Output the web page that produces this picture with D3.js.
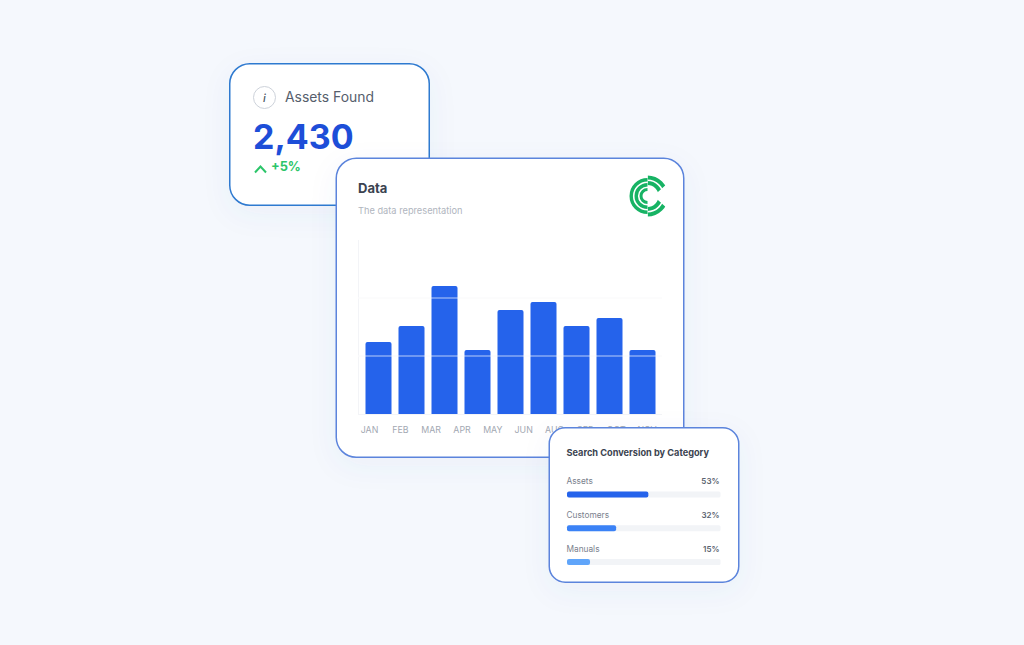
<!DOCTYPE html>
<html><head><meta charset="utf-8">
<script src="https://cdn.jsdelivr.net/npm/d3@7"></script>
<style>html,body{margin:0;padding:0;background:#f5f8fd;overflow:hidden}svg{display:block}text{font-family:Inter,sans-serif}</style>
</head><body><svg id="c" width="1024" height="645"></svg>
<script>
const barMonths = ["JAN","FEB","MAR","APR","MAY","JUN","AUG","SEP","OCT"];
const monthValues = [45,55,80,40,65,70,55,60,40];
const tickLabels = ["JAN","FEB","MAR","APR","MAY","JUN","AUG","SEP","OCT","NOV"];
const gridValues = [36.25,72.5];
const kpiValue = "2,430";
const kpiChange = "+5%";
const convCategories = ["Assets","Customers","Manuals"];
const convValues = [53,32,15];
const convColors = ["#2563eb","#3b82f6","#60a5fa"];

const svg = d3.select("#c");
const defs = svg.append("defs");
const f = defs.append("filter").attr("id","sh").attr("x","-20%").attr("y","-20%").attr("width","140%").attr("height","150%");
f.append("feDropShadow").attr("dx",0).attr("dy",8).attr("stdDeviation",14).attr("flood-color","#3b5fb0").attr("flood-opacity",0.055);
defs.append("clipPath").attr("id","logoClip").append("polygon")
  .attr("points",[[0,-26],[26,-26],[26,-18],[6,0],[26,18],[26,26],[0,26]].map(p=>p.join(",")).join(" "));

function card(x,y,w,h,r,stroke){
  svg.append("rect").attr("x",x).attr("y",y).attr("width",w).attr("height",h).attr("rx",r)
    .attr("fill","#fff").attr("stroke",stroke).attr("stroke-width",1.5).attr("filter","url(#sh)");
}
function text(x,y,s,size,weight,fill,anchor){
  return svg.append("text").attr("x",x).attr("y",y).text(s).attr("font-size",size).attr("font-weight",weight)
    .attr("fill",fill).attr("text-anchor",anchor||"start");
}

// KPI card
card(229.75,63.75,199.5,141.5,20,"#2f7ad0");
svg.append("circle").attr("cx",264.5).attr("cy",97.5).attr("r",11).attr("fill","#fff").attr("stroke","#cdd2da").attr("stroke-width",1);
text(264.5,101.5,"i",11,500,"#4b5563","middle").attr("font-style","italic");
text(285,102,"Assets Found",13.9,400,"#565e6c");
text(253,149,kpiValue,34,700,"#1d4ed8");
text(271,170.5,kpiChange,12.8,700,"#2cc56a");
svg.append("path").attr("d",d3.line()([[255,172.5],[260.5,166.5],[266,172.5]])).attr("fill","none").attr("stroke","#2cc56a").attr("stroke-width",2);

// Data card
card(336.25,158.25,347.5,299,20,"#5b84dc");
text(358,193,"Data",13,700,"#3b4350");
text(358,214,"The data representation",9.25,400,"#b0b5be");

const baseY = 414;
const y = d3.scaleLinear().domain([0,108.75]).range([baseY,240]);
const xBand = d3.scaleBand().domain(barMonths).range([365.5,655.5]).paddingInner(7/33).paddingOuter(0);
const xLabel = d3.scalePoint().domain(tickLabels).range([369.5,647]);

const plot = svg.append("g");
plot.append("line").attr("x1",358.5).attr("x2",358.5).attr("y1",240).attr("y2",baseY).attr("stroke","#f3f4f7");
plot.append("line").attr("x1",358).attr("x2",662).attr("y1",baseY+.5).attr("y2",baseY+.5).attr("stroke","#f3f4f7");
plot.selectAll("line.gridbg").data(gridValues).join("line").attr("class","gridbg")
  .attr("x1",358).attr("x2",662).attr("y1",d=>y(d)).attr("y2",d=>y(d)).attr("stroke","#f5f6f8");
plot.selectAll("path.bar").data(barMonths).join("path").attr("class","bar").attr("fill","#2563eb")
  .attr("d",(m,i)=>{
    const x0=xBand(m),x1=x0+xBand.bandwidth(),t=y(monthValues[i]),r=2;
    return `M${x0},${baseY}V${t+r}Q${x0},${t} ${x0+r},${t}H${x1-r}Q${x1},${t} ${x1},${t+r}V${baseY}Z`;
  });
plot.selectAll("line.grid").data(gridValues).join("line").attr("class","grid")
  .attr("x1",358).attr("x2",662).attr("y1",d=>y(d)).attr("y2",d=>y(d))
  .attr("stroke","#fff").attr("stroke-opacity",0.68).attr("stroke-width",1.2);
plot.selectAll("text.m").data(tickLabels).join("text").attr("class","m")
  .attr("x",m=>xLabel(m)).attr("y",432.5).attr("text-anchor","middle").attr("font-size",8.8)
  .attr("fill","#a2a8b2").text(m=>m);

// Logo
const lg = svg.append("g").attr("transform","translate(647.5,196)").attr("fill","#17b364");
const arc = d3.arc();
[[14.6,18],[9.6,13],[5,8]].forEach(([a,b])=>{
  lg.append("path").attr("d",arc({innerRadius:a,outerRadius:b,startAngle:Math.PI,endAngle:2*Math.PI}));
});
const rg = lg.append("g").attr("clip-path","url(#logoClip)");
[[16.6,20.6],[11,15]].forEach(([a,b])=>{
  rg.append("path").attr("d",arc({innerRadius:a,outerRadius:b,startAngle:0,endAngle:Math.PI}));
});

// Conversion card
card(549.25,427.75,189.5,154.5,16,"#5b84dc");
text(566.5,456,"Search Conversion by Category",9.2,700,"#3b4350");
const xConv = d3.scaleLinear().domain([0,100]).range([567,720.5]);
const rowY = d3.scalePoint().domain(convCategories).range([0,67.6]);
convCategories.forEach((c,i)=>{
  const dy=rowY(c);
  text(566.5,484+dy,c,8.3,400,"#7a818d");
  text(719.5,484+dy,convValues[i]+"%",8,600,"#5b6370","end");
  svg.append("rect").attr("x",567).attr("y",491.5+dy).attr("width",xConv(100)-xConv(0)).attr("height",6).attr("rx",1.5).attr("fill","#f2f4f7");
  svg.append("rect").attr("x",567).attr("y",491.5+dy).attr("width",xConv(convValues[i])-xConv(0)).attr("height",6).attr("rx",2).attr("fill",convColors[i]);
});
</script></body></html>
